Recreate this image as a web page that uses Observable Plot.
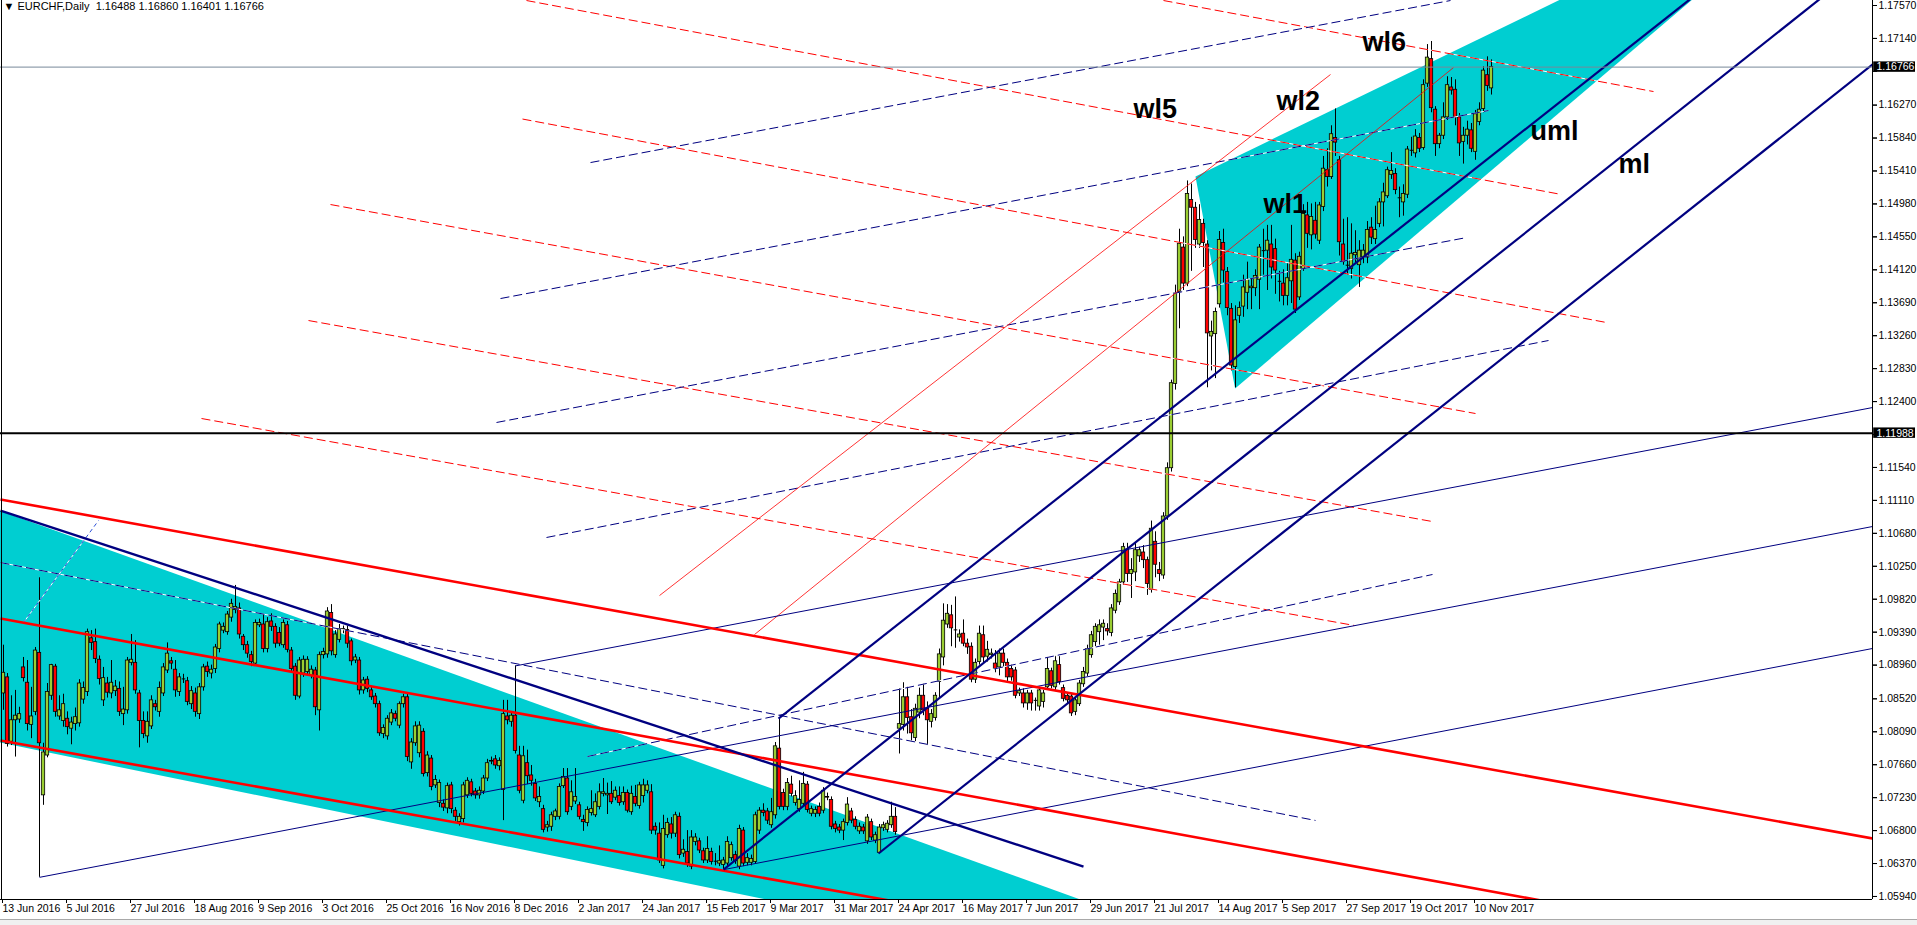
<!DOCTYPE html>
<html><head><meta charset="utf-8">
<script src="https://cdn.jsdelivr.net/npm/d3@7"></script>
<script src="https://cdn.jsdelivr.net/npm/@observablehq/plot@0.6"></script>
<style>
html,body{margin:0;padding:0;background:#fff;overflow:hidden}
#chart{position:relative;width:1917px;height:925px}
#strip{position:absolute;left:0;top:919px;width:1917px;height:6px;background:#f0f0f0;border-top:1px solid #a8a8a8}
</style></head><body><div id="chart"><div id="plot"></div><div id="strip"></div></div>
<script>
// ---- DATA (prices in pips above 1.0000, i.e. price = 1 + v/10000) ----
const open = [
859,880,796,824,825,893,873,818,835,912, 726,778,856,894,829,823,826,813,819,820,
851,861,931,926,903,850,872,859,862,865, 832,837,899,899,859,823,803,816,845,835,
859,889,901,890,861,878,875,845,859,832, 867,894,885,891,917,941,939,958,968,970,
933,922,909,898,948,949,917,953,946,938, 922,948,915,894,855,885,887,882,889,837,
909,910,964,909,929,942,942,927,902,902, 863,877,863,855,845,806,803,821,832,817,
845,854,769,794,781,809,755,774,739,716, 715,709,739,706,691,695,726,743,731,726,
731,748,770,773,764,733,829,822,830,778, 719,768,752,741,717,708,684,685,698,698,
738,748,711,718,713,694,690,703,700,711, 728,726,728,723,725,717,729,704,724,712,
725,732,730,685,676,634,674,688,676,698, 650,652,633,665,666,653,641,652,640,637,
635,637,644,648,633,680,638,638,639,680, 706,705,687,700,787,729,711,740,716,708,
715,740,702,702,711,706,724,720,688,684, 680,690,705,694,679,684,666,691,667,651,
683,681,687,698,813,818,854,828,801,834, 856,839,822,827,874,906,949,961,942,932,
937,924,920,877,900,935,907,909,898,893, 911,899,891,889,859,859,846,859,850,842,
848,867,888,867,896,866,856,855,835,845, 871,885,909,926,939,945,943,938,967,978,
1004,1047,1015,1017,1038,1043,1033,994,1057,1020, 1013,1090,1153,1263,1383,1441,1394,1503,1493,1445,
1472,1445,1325,1328,1367,1447,1409,1361,1285,1352, 1364,1382,1388,1388,1399,1437,1437,1445,1439,1397,
1394,1378,1397,1424,1376,1413,1483,1457,1476,1450, 1494,1542,1533,1584,1555,1445,1418,1413,1431,1418,
1428,1428,1467,1452,1472,1500,1508,1536,1537,1506, 1500,1510,1568,1564,1584,1571,1655,1687,1621,1576,
1587,1611,1650,1647,1611,1579,1587,1594,1566,1605, 1622,1666,1648.8];
const high = [
922,885,856,863,841,906,902,867,919,1010, 794,872,897,897,856,858,835,828,840,877,
874,943,941,943,908,893,880,902,876,874, 867,906,936,928,863,835,835,856,850,874,
898,925,906,902,885,884,880,868,866,872, 897,900,896,923,952,951,966,982,1000,977,
936,927,914,955,956,962,958,963,950,945, 955,953,919,898,906,908,907,895,893,913,
918,971,975,941,949,947,947,930,910,906, 880,881,867,859,849,818,830,838,836,848,
858,858,800,822,822,813,783,778,752,746, 720,742,743,710,702,743,749,747,735,737,
752,773,776,778,775,850,850,834,895,790, 790,785,765,747,737,713,692,704,708,741,
761,761,745,761,717,700,711,732,728,741, 748,742,744,737,737,737,733,738,739,743,
747,745,740,690,690,700,696,697,704,703, 668,680,680,676,670,657,672,657,650,660,
645,672,665,653,687,684,650,648,704,710, 715,709,722,795,826,734,748,751,732,745,
756,744,712,711,716,736,729,724,692,688, 695,723,709,698,690,688,701,695,678,688,
691,693,717,710,865,873,867,838,845,866, 871,848,838,860,917,976,975,974,985,942,
955,930,925,904,947,947,927,917,915,917, 917,904,896,893,866,865,863,863,853,867,
863,906,892,908,907,870,860,858,854,876, 893,922,940,950,955,955,950,975,994,1008,
1055,1055,1035,1055,1050,1052,1037,1084,1070,1030, 1095,1160,1268,1392,1465,1455,1528,1524,1500,1497,
1478,1450,1345,1362,1462,1465,1415,1368,1365,1370, 1405,1422,1400,1412,1445,1465,1470,1470,1452,1410,
1412,1420,1470,1433,1435,1497,1500,1498,1500,1500, 1560,1570,1600,1622,1560,1478,1480,1472,1463,1450,
1445,1475,1480,1495,1505,1525,1546,1565,1544,1520, 1523,1573,1585,1595,1590,1660,1706,1710,1625,1590,
1630,1664,1663,1660,1616,1598,1606,1603,1620,1630, 1677,1690,1686.0];
const low = [
837,789,791,776,820,874,810,800,830,619, 713,775,850,828,824,815,805,792,810,815,
845,855,915,898,870,842,853,852,855,829, 817,832,895,858,788,800,794,812,836,828,
855,885,890,854,855,872,843,838,828,825, 862,880,878,885,912,937,935,952,963,930,
915,905,894,895,945,912,912,940,918,920, 918,912,887,850,852,880,883,878,830,810,
904,905,908,905,925,937,918,895,898,857, 858,860,850,840,803,800,798,817,822,813,
840,770,760,790,775,750,750,732,735,710, 705,702,702,692,686,690,722,724,721,721,
727,744,766,760,758,693,818,815,780,728, 715,740,738,718,710,677,678,679,693,694,
735,700,706,714,694,679,685,699,697,707, 724,701,714,719,712,713,703,700,711,708,
716,728,675,674,637,630,670,669,671,643, 645,632,629,660,650,637,637,635,634,633,
629,633,640,636,629,633,634,634,636,675, 698,688,683,695,707,706,706,724,712,704,
711,703,698,697,698,702,719,681,677,676, 667,686,689,681,675,675,662,667,663,650,
679,677,683,674,780,810,806,797,796,826, 830,791,814,823,853,895,944,920,918,926,
920,910,873,872,896,897,900,904,886,882, 893,874,875,852,855,840,837,836,836,836,
840,863,865,863,870,848,845,829,830,842, 867,881,905,920,922,928,934,933,963,974,
1000,1004,983,1005,1030,1022,987,990,1010,1005, 1008,1085,1148,1255,1335,1385,1390,1410,1440,1440,
1415,1258,1280,1270,1362,1395,1352,1280,1258,1342, 1350,1360,1360,1377,1360,1405,1385,1400,1380,1370,
1365,1365,1368,1355,1372,1410,1440,1438,1452,1445, 1488,1520,1530,1560,1430,1418,1405,1400,1420,1389,
1420,1420,1445,1445,1467,1468,1505,1530,1510,1480, 1482,1505,1560,1558,1565,1568,1650,1617,1560,1570,
1582,1607,1640,1600,1560,1550,1575,1565,1555,1600, 1617,1645,1640.1];
const close = [
886,793,824,830,832,879,819,829,915,794, 782,861,896,835,837,845,815,821,828,872,
866,939,925,904,878,879,860,873,868,835, 838,902,903,863,823,806,822,850,841,866,
893,911,898,863,880,878,848,862,835,867, 893,887,890,919,949,946,962,976,972,936,
922,911,900,951,951,917,952,946,924,924, 951,916,891,856,902,903,903,890,841,909,
913,966,914,936,943,943,924,901,906,863, 876,865,854,845,807,814,826,833,826,845,
854,776,795,816,817,754,778,737,746,742, 710,738,708,698,698,739,745,728,726,732,
748,768,771,765,771,832,824,830,784,732, 777,751,745,722,724,681,687,700,705,737,
750,704,730,724,698,691,707,708,717,730, 730,728,717,732,716,729,706,728,715,739,
739,739,680,680,641,682,690,676,700,648, 655,637,671,671,654,641,656,639,640,640,
641,665,661,640,682,637,644,643,700,706, 703,693,704,790,711,711,742,728,725,720,
741,707,708,707,702,732,723,685,682,680, 691,714,693,685,685,679,697,671,674,684,
687,689,698,678,819,854,827,807,839,856, 837,824,832,856,910,954,963,944,942,936,
924,919,877,899,937,906,916,911,891,911, 899,880,880,856,862,846,859,846,850,863,
859,891,869,901,874,852,850,833,850,872, 887,917,935,946,948,950,940,970,989,1004,
1050,1015,1020,1046,1046,1033,1002,1074,1027,1015, 1090,1153,1264,1381,1446,1394,1511,1493,1451,1477,
1447,1329,1331,1357,1451,1411,1362,1287,1346,1362, 1389,1399,1390,1404,1441,1437,1450,1415,1411,1397,
1378,1401,1425,1360,1429,1485,1459,1481,1458,1496, 1544,1533,1589,1578,1448,1422,1418,1433,1434,1437,
1437,1464,1454,1464,1500,1513,1542,1541,1516,1506, 1511,1569,1568,1586,1570,1653,1689,1623,1576,1587,
1611,1653,1646,1611,1577,1587,1595,1570,1615,1621, 1672,1652,1676.6];

// x-axis: bar index of each date label, and its text
const xTickBars = [0,16,32,48,64,80,96,112,128,144,160,176,192,208,224,240,256,272,288,304,320,336,352,368];
const xTickLabels = ["13 Jun 2016","5 Jul 2016","27 Jul 2016","18 Aug 2016","9 Sep 2016","3 Oct 2016","25 Oct 2016","16 Nov 2016","8 Dec 2016","2 Jan 2017","24 Jan 2017","15 Feb 2017","9 Mar 2017","31 Mar 2017","24 Apr 2017","16 May 2017","7 Jun 2017","29 Jun 2017","21 Jul 2017","14 Aug 2017","5 Sep 2017","27 Sep 2017","19 Oct 2017","10 Nov 2017"];
// y-axis price ticks (two of them sit under the price boxes, so their labels are hidden)
const yTicks = [1.17570,1.17140,1.16710,1.16270,1.15840,1.15410,1.14980,1.14550,1.14120,1.13690,1.13260,1.12830,1.12400,1.11970,1.11540,1.11110,1.10680,1.10250,1.09820,1.09390,1.08960,1.08520,1.08090,1.07660,1.07230,1.06800,1.06370,1.05940];
const yHiddenLabels = [1.16710, 1.11970];
const levelLine = 1.11988;

// drawn objects: [bar1, price1, bar2, price2]
const redChannel = [[-0.75,1.11122,467.25,1.06697],[-0.75,1.09568,400,1.05738],[-0.75,1.07976,240,1.05713]];
const navyTrend = [[-0.75,1.10978,270,1.06331]];
const navyTrendDash = [[-0.75,1.10299,328,1.06932]];
const blueShortDash = [[5,1.09516,23.75,1.10847]];
const forkThick = [[193.75,1.08263,430,1.17996],[180,1.06292,460,1.17900],[218.75,1.06501,470,1.16913]];
const forkThin = [[9,1.06190,467.25,1.10769],[128,1.08950,467.25,1.12322],[180,1.06290,467.25,1.09177]];
const redThin = [[164,1.09868,331.75,1.16669],[187.75,1.09359,362.5,1.16760]];
const redDashed = [[290,1.17635,412.5,1.16447],[130.75,1.17635,389.5,1.15103],[129.75,1.16088,400.75,1.13432],[81.75,1.14972,368,1.12244],[76.25,1.13458,357.25,1.10834],[49.5,1.12179,337.75,1.09477]];
const navyDashed = [[146.75,1.15520,361.75,1.17635],[124.25,1.13745,371.25,1.16199],[123.25,1.12127,365.75,1.14541],[135.75,1.10626,386.25,1.13197],[146,1.07767,357.25,1.10143]];
// filled triangles: [bar, price] vertices
const triLower = [[-10.75,1.11161],[-10.75,1.08054],[372.75,1.03955]];
const triUpper = [[298,1.15338],[307.9,1.12570],[466,1.19593]];
// text labels
const waveText = ["wl5","wl2","wl1","wl6","uml","ml"];
const waveBar = [282.5,318.25,315,339.75,381.75,403.75];
const wavePrice = [1.16108,1.16212,1.14859,1.16982,1.15808,1.15390];

// ---- BUILD ----
const candles = close.map((c, i) => ({
  i, o: 1 + open[i] / 1e4, h: 1 + high[i] / 1e4, l: 1 + low[i] / 1e4, c: 1 + c / 1e4
}));
const last = candles[candles.length - 1];
const dojis = candles.filter(d => Math.abs(d.o - d.c) < 0.00003);
const segs = a => a.map(([x1, y1, x2, y2]) => ({x1, y1, x2, y2}));
const labels = waveText.map((t, k) => ({t, x: waveBar[k], y: wavePrice[k]}));
const title = "\u25BC EURCHF,Daily  " + [last.o, last.h, last.l, last.c].map(v => v.toFixed(5)).join(" ");
const boxes = [{p: last.c}, {p: levelLine}];
const labelTicks = yTicks.filter(v => !yHiddenLabels.includes(v));
const FONT = "'Liberation Sans Narrow','Liberation Sans',Arial,sans-serif";
const DASH = "9,4";

function link(arr, o) {
  return Plot.link(segs(arr), {x1: "x1", y1: "y1", x2: "x2", y2: "y2", clip: true, ...o});
}

const chart = Plot.plot({
  width: 1917, height: 925,
  marginLeft: 0, marginRight: 45, marginTop: 0, marginBottom: 26,
  x: {domain: [-0.75, 467.25]},
  y: {domain: [1.059006, 1.176353]},
  style: {background: "white", color: "black", fontFamily: FONT, fontSize: "10.5px"},
  marks: [
    Plot.line(triLower, {x: d => d[0], y: d => d[1], fill: "#00ced1", stroke: "none", clip: true}),
    Plot.line(triUpper, {x: d => d[0], y: d => d[1], fill: "#00ced1", stroke: "none", clip: true}),
    // candles
    Plot.ruleX(candles, {x: "i", y1: "l", y2: "h", stroke: "black", strokeWidth: 1}),
    Plot.rect(candles, {x1: d => d.i - 0.42, x2: d => d.i + 0.42, y1: "o", y2: "c",
      fill: d => d.c >= d.o ? "#9acd32" : "#ff0000", stroke: "black", strokeWidth: 0.8}),
    Plot.link(dojis, {x1: d => d.i - 0.45, x2: d => d.i + 0.45, y1: "c", y2: "c", stroke: "black", strokeWidth: 1}),
    // dashed objects (MT4 draws gaps in background colour)
    link(redDashed, {stroke: "white", strokeWidth: 1}),
    link(redDashed, {stroke: "#ff0000", strokeWidth: 1, strokeDasharray: DASH}),
    link(navyDashed, {stroke: "white", strokeWidth: 1}),
    link(navyDashed, {stroke: "#000080", strokeWidth: 1, strokeDasharray: DASH}),
    link(navyTrendDash, {stroke: "white", strokeWidth: 1}),
    link(navyTrendDash, {stroke: "#000080", strokeWidth: 1, strokeDasharray: DASH}),
    link(blueShortDash, {stroke: "white", strokeWidth: 1}),
    link(blueShortDash, {stroke: "#2b4fd6", strokeWidth: 1, strokeDasharray: "4,3"}),
    // solid thin objects
    link(redThin, {stroke: "#ff0000", strokeWidth: 0.8}),
    link(forkThin, {stroke: "#000080", strokeWidth: 1}),
    // thick objects
    link(redChannel, {stroke: "#ff0000", strokeWidth: 2.6}),
    link(navyTrend, {stroke: "#000080", strokeWidth: 2.4}),
    link(forkThick, {stroke: "#000080", strokeWidth: 2.2}),
    // horizontal lines
    Plot.ruleY([last.c], {stroke: "#778899", strokeWidth: 1}),
    Plot.ruleY([levelLine], {stroke: "black", strokeWidth: 2}),
    // frame lines
    Plot.ruleX([467.25], {stroke: "black", strokeWidth: 1}),
    Plot.ruleX([-0.5], {stroke: "black", strokeWidth: 1}),
    Plot.ruleY([1.059006], {stroke: "black", strokeWidth: 1}),
    // axes
    Plot.axisY({anchor: "right", ticks: yTicks, tickFormat: null, text: null, tickSize: 4, label: null}),
    Plot.axisY({anchor: "right", ticks: labelTicks, tickFormat: d => d.toFixed(5), tickSize: 4, tickPadding: 2, label: null, fontSize: 10.5}),
    Plot.axisX({ticks: xTickBars, tickFormat: d => xTickLabels[xTickBars.indexOf(d)], textAnchor: "start",
      tickSize: 4, tickPadding: 1, label: null, fontSize: 10.5, dx: -1}),
    // price boxes
    Plot.rect(boxes, {x1: 467.55, x2: 478, y1: d => d.p - 0.00068, y2: d => d.p + 0.00068, fill: "black"}),
    Plot.text(boxes, {x: 468.25, y: "p", text: d => d.p.toFixed(5), fill: "white", textAnchor: "start", fontSize: 10.5}),
    // wave labels
    Plot.text(labels, {x: "x", y: "y", text: "t", textAnchor: "start", lineAnchor: "bottom",
      fontSize: 27, fontWeight: "bold", fontFamily: "'Liberation Sans',Arial,sans-serif", fill: "black"}),
    // title
    Plot.text([title], {frameAnchor: "top-left", dx: 3, dy: 2, textAnchor: "start", lineAnchor: "top", fontSize: 11, fill: "black"})
  ]
});
document.getElementById("plot").appendChild(chart);
</script></body></html>
